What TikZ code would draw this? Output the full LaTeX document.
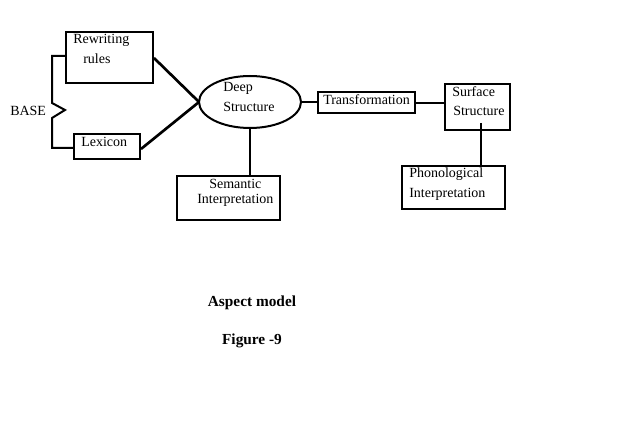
\documentclass[tikz,border=0pt]{standalone}
\usepackage{fontspec}
\setmainfont{Liberation Serif}
\begin{document}
\begin{tikzpicture}[x=0.75pt,y=-0.75pt,
  box/.style={draw,line width=1.5pt,inner sep=0pt,anchor=north west},
  txt/.style={anchor=west,inner sep=0pt,font=\fontsize{10.5}{12}\selectfont},
  ttl/.style={inner sep=0pt,font=\fontsize{11.5}{13}\selectfont\bfseries},
  conn/.style={line width=2pt},
  thin/.style={line width=1.5pt}]
\useasboundingbox (0,0) rectangle (640,442);
% boxes
\node[box,minimum width=87pt*0.75,minimum height=51pt*0.75] (rw) at (65,31) {};
\node[box,minimum width=66pt*0.75,minimum height=25pt*0.75] (lx) at (73,133) {};
\draw[line width=1.5pt] (250,102) ellipse [x radius=51, y radius=26];
\node[inner sep=0pt,minimum width=102pt*0.75,minimum height=52pt*0.75] (ds) at (250,102) {};
\node[box,minimum width=103pt*0.75,minimum height=44pt*0.75] (se) at (176,175) {};
\node[box,minimum width=97pt*0.75,minimum height=21pt*0.75] (tr) at (317,91) {};
\node[box,minimum width=65pt*0.75,minimum height=46pt*0.75] (ss) at (444,83) {};
\node[box,minimum width=103pt*0.75,minimum height=43pt*0.75] (ph) at (401,165) {};
% texts
\node[txt] (t1) at (73,40) {Rewriting};
\node[txt] (t2) at (83,59) {rules};
\node[txt] (t3) at (81,142) {Lexicon};
\node[txt] (t4) at (10,111) {BASE};
\node[txt] (t5) at (223,88) {Deep};
\node[txt] (t6) at (223,107) {Structure};
\node[txt] (t7) at (209,184) {Semantic};
\node[txt] (t8) at (197,200) {Interpretation};
\node[txt] (t9) at (323,100) {Transformation};
\node[txt] (t10) at (452,92) {Surface};
\node[txt] (t11) at (453,111) {Structure};
\node[txt] (t12) at (409,174) {Phonological};
\node[txt] (t13) at (409,194) {Interpretation};
\node[ttl] (a1) at (252,303) {Aspect model};
\node[ttl] (a2) at (252,341) {Figure -9};
% bracket
\coordinate (b1) at (rw.west |- 0,56);
\coordinate (b2) at (lx.west |- 0,148);
\draw[thin] (b1) -- (52,56) -- (52,103) -- (65,110) -- (52,118) -- (52,148) -- (b2);
% connectors
\coordinate (dl) at (199,102);
\draw[conn] (rw.east |- 0,58) -- (dl);
\draw[conn] (lx.east |- 0,149) -- (dl);
\draw[conn] (ds.south) -- (se.north -| ds.south);
\draw[conn] (ds.east) -- (tr.west |- ds.east);
\draw[conn] (tr.east |- 0,103) -- (ss.west |- 0,103);
\coordinate (sb) at (481,123);
\draw[conn] (sb) -- (ph.north -| sb);
\end{tikzpicture}
\end{document}
